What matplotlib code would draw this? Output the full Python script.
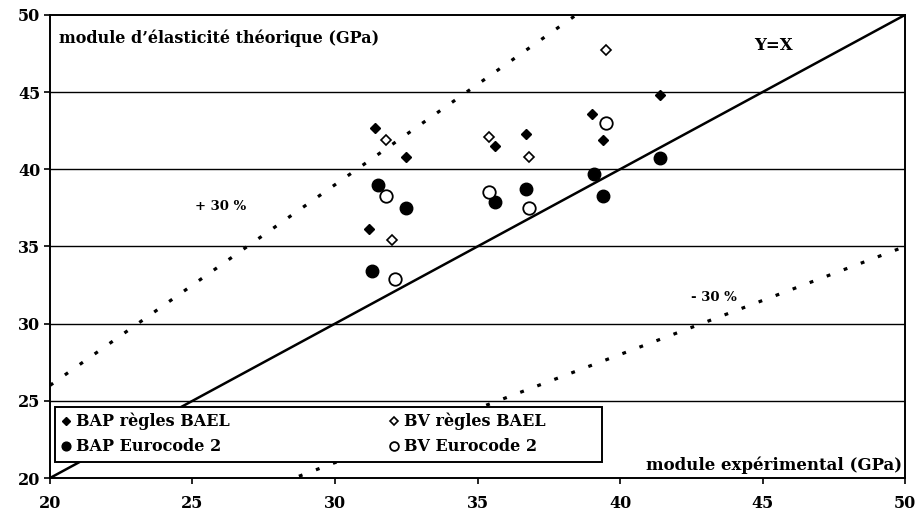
import matplotlib
matplotlib.use("Agg")
import matplotlib.pyplot as plt
import numpy as np

# Data
bap_bael_x = [31.4, 32.5, 31.2, 35.6, 36.7, 39.0, 39.4, 41.4]
bap_bael_y = [42.7, 40.8, 36.1, 41.5, 42.3, 43.6, 41.9, 44.8]
bv_bael_x = [31.8, 32.0, 35.4, 36.8, 39.5]
bv_bael_y = [41.9, 35.4, 42.1, 40.8, 47.7]
bap_ec2_x = [31.5, 32.5, 31.3, 35.6, 36.7, 39.1, 39.4, 41.4]
bap_ec2_y = [39.0, 37.5, 33.4, 37.9, 38.7, 39.7, 38.3, 40.7]
bv_ec2_x = [31.8, 32.1, 35.4, 36.8, 39.5]
bv_ec2_y = [38.3, 32.9, 38.5, 37.5, 43.0]
ref_ratios = [1.0, 1.3, 0.7]
line_x = np.array([20.0, 50.0])
x_ticks = [20, 25, 30, 35, 40, 45, 50]
y_ticks = [20, 25, 30, 35, 40, 45, 50]

plt.rcParams['font.family'] = ['DejaVu Serif']
plt.rcParams['font.weight'] = 'bold'

fig = plt.figure(figsize=(9.19, 5.14), dpi=100)
ax = fig.add_axes([0.0544, 0.070, 0.9304, 0.901])

for yv in y_ticks[1:-1]:
    ax.axhline(yv, color='black', lw=1.0, zorder=1)

ax.plot(line_x, ref_ratios[0] * line_x, color='black', lw=1.8, zorder=2)
ax.plot(line_x, ref_ratios[1] * line_x, color='black', lw=2.3, ls=(0, (1.2, 4.5)), zorder=2)
ax.plot(line_x, ref_ratios[2] * line_x, color='black', lw=2.3, ls=(0, (1.2, 4.5)), zorder=2)

h1, = ax.plot(bap_bael_x, bap_bael_y, ls='none', marker='D', ms=5.5, mfc='black', mec='black',
              label='BAP règles BAEL', zorder=3)
h2, = ax.plot(bv_bael_x, bv_bael_y, ls='none', marker='D', ms=5.5, mfc='white', mec='black', mew=1.2,
              label='BV règles BAEL' + ' ' * 9, zorder=3)
h3, = ax.plot(bap_ec2_x, bap_ec2_y, ls='none', marker='o', ms=9, mfc='black', mec='black',
              label='BAP Eurocode 2', zorder=3)
h4, = ax.plot(bv_ec2_x, bv_ec2_y, ls='none', marker='o', ms=9, mfc='white', mec='black', mew=1.3,
              label='BV Eurocode 2', zorder=3)

ax.set_xlim(20, 50)
ax.set_ylim(20, 50)
ax.set_xticks(x_ticks)
ax.set_yticks(y_ticks)
ax.tick_params(axis='x', direction='out', length=4, width=1.2, pad=8, labelsize=11.5)
ax.tick_params(axis='y', direction='out', length=4, width=1.2, pad=3, labelsize=11.5)
for lbl in ax.get_xticklabels() + ax.get_yticklabels():
    lbl.set_fontweight('bold')
for s in ax.spines.values():
    s.set_linewidth(1.4)
    s.set_color('black')

ax.text(20.3, 48.5, "module d’élasticité théorique (GPa)", fontsize=11.5, fontweight='bold',
        ha='left', va='center')
ax.text(49.9, 20.85, "module expérimental (GPa)", fontsize=12, fontweight='bold',
        ha='right', va='center')
ax.text(45.4, 48.0, "Y=X", fontsize=12, fontweight='bold', ha='center', va='center')
ax.text(26.0, 37.6, "+ 30 %", fontsize=9.5, fontweight='bold', ha='center', va='center')
ax.text(43.3, 31.7, "- 30 %", fontsize=9.5, fontweight='bold', ha='center', va='center')

leg = ax.legend(handles=[h1, h3, h2, h4], loc='lower left',
                bbox_to_anchor=(0.006, 0.035), ncol=2, frameon=True, fancybox=False,
                edgecolor='black', fontsize=11.5, handlelength=0.6, handletextpad=0.3,
                borderpad=0.4, labelspacing=0.5, columnspacing=10.0,
                markerscale=0.7, borderaxespad=0, framealpha=1)
leg.get_frame().set_linewidth(1.4)
for t in leg.get_texts():
    t.set_fontweight('bold')

fig.savefig('out.png', dpi=100)
